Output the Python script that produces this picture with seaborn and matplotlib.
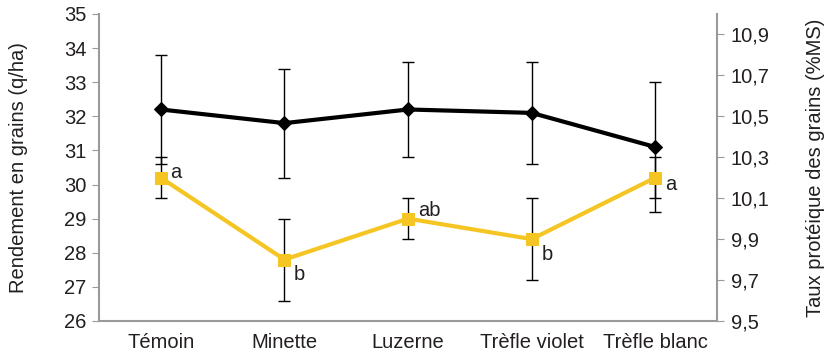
import matplotlib
matplotlib.use("Agg")
import matplotlib.pyplot as plt
import seaborn as sns
import pandas as pd

# valeurs
cultures = ["Témoin", "Minette", "Luzerne", "Trèfle violet", "Trèfle blanc"]
rendement = [32.2, 31.8, 32.2, 32.1, 31.1]
rendement_err = [1.6, 1.6, 1.4, 1.5, 1.9]
proteine = [10.2, 9.8, 10.0, 9.9, 10.2]
proteine_err = [0.1, 0.2, 0.1, 0.2, 0.1]
lettres = ["a", "b", "ab", "b", "a"]

df = pd.DataFrame({"culture": cultures, "rendement": rendement,
                   "proteine": proteine})

sns.set_style("white")
plt.rcParams["font.family"] = ["Liberation Sans", "DejaVu Sans"]

grey = "#9a9a9a"
yellow = "#F5C623"
txt = "#231f20"
fs = 14.5

fig = plt.figure(figsize=(8.28, 3.58), dpi=100)
ax = fig.add_axes([0.1196, 0.1034, 0.7464, 0.8576])
ax2 = ax.twinx()

x = list(range(len(cultures)))

ax.errorbar(x, rendement, yerr=rendement_err, fmt="none", ecolor="black",
            elinewidth=1, capsize=4.5, capthick=1, zorder=2)
sns.lineplot(data=df, x="culture", y="rendement", ax=ax, color="black",
             linewidth=3, marker="D", markersize=7.5, markeredgecolor="black",
             sort=False, zorder=3)

ax2.errorbar(x, proteine, yerr=proteine_err, fmt="none", ecolor="black",
             elinewidth=1, capsize=4.5, capthick=1, zorder=2)
sns.lineplot(data=df, x="culture", y="proteine", ax=ax2, color=yellow,
             linewidth=3, marker="s", markersize=8.5, markeredgecolor=yellow,
             sort=False, zorder=3)

offsets = [(7, 4), (7, -11), (7, 6), (7, -11), (7, -5)]
for i, (lab, off) in enumerate(zip(lettres, offsets)):
    ax2.annotate(lab, (x[i], proteine[i]), xytext=off, textcoords="offset points",
                 fontsize=fs, color=txt, va="center", ha="left")

ax.set_xlim(-0.5, 4.5)
ax.set_ylim(26, 35)
ax.set_yticks(range(26, 36))
ax2.set_ylim(9.5, 11.0)
ticks2 = [9.5, 9.7, 9.9, 10.1, 10.3, 10.5, 10.7, 10.9]
ax2.set_yticks(ticks2)
ax2.set_yticklabels([f"{t:.1f}".replace(".", ",") for t in ticks2])

ax.set_xticks(x)
ax.set_xticklabels(cultures)
ax.set_xticks([0.5, 1.5, 2.5, 3.5], minor=True)
ax.tick_params(axis="x", which="major", length=0, pad=9, labelsize=fs,
               labelcolor=txt)
ax.tick_params(axis="x", which="minor", length=4, color=grey, direction="in")
ax.tick_params(axis="y", length=5, color=grey, direction="out", labelsize=fs,
               labelcolor=txt, left=True, pad=4)
ax2.tick_params(axis="y", length=5, color=grey, direction="out", labelsize=fs,
                labelcolor=txt, right=True, pad=5)

for a in (ax, ax2):
    for s in a.spines.values():
        s.set_color(grey)
        s.set_linewidth(1.5)
    a.spines["top"].set_visible(False)
ax.spines["right"].set_visible(False)
ax2.spines["left"].set_visible(False)
ax2.spines["bottom"].set_visible(False)

ax.set_xlabel("")
ax.set_ylabel("Rendement en grains (q/ha)", fontsize=fs, color=txt, labelpad=26)
ax2.set_ylabel("Taux protéique des grains (%MS)", fontsize=fs, color=txt,
               labelpad=26)

fig.savefig("out.png", dpi=100)
